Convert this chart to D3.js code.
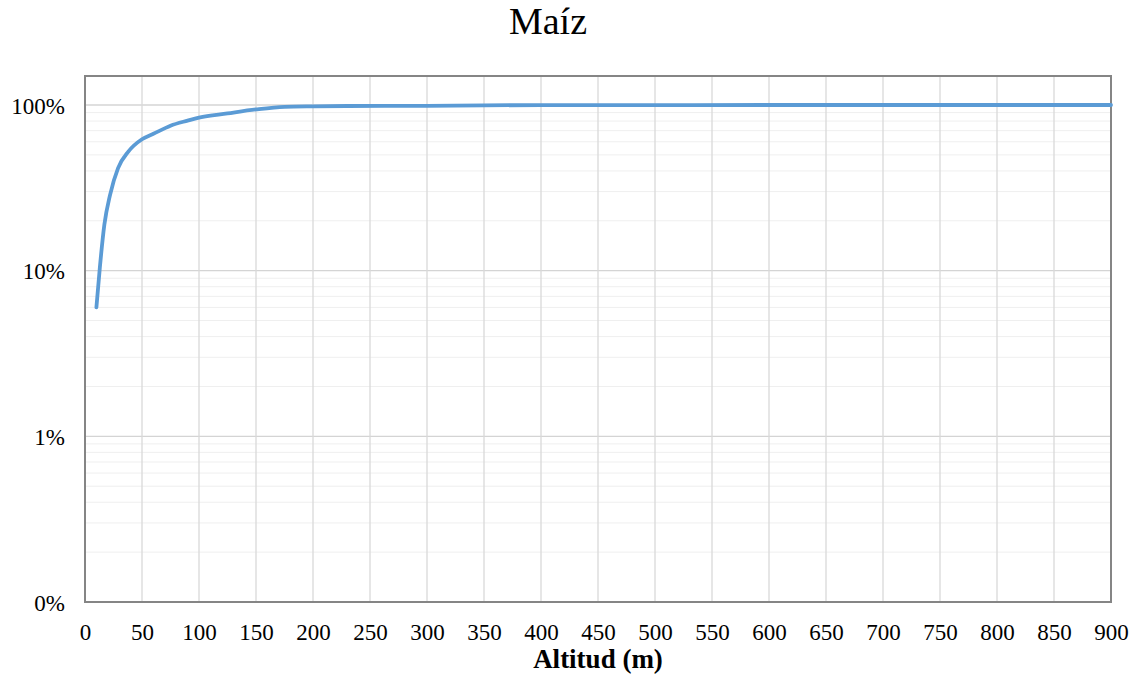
<!DOCTYPE html>
<html>
<head>
<meta charset="utf-8">
<title>Maíz</title>
<script src="https://cdnjs.cloudflare.com/ajax/libs/d3/7.8.5/d3.min.js"></script>
<style>
  body { margin: 0; background: #fff; }
  text { font-family: "Liberation Serif", "Times New Roman", serif; fill: #000; }
</style>
</head>
<body>
<script>
// cumulative share of area (%) by altitude (m)
var altitudes = [10, 13, 17, 22, 29, 38, 50, 60, 75, 90, 100, 125, 150, 175, 200, 230, 300, 350, 400, 500, 600, 700, 800, 900];
var shares = [6, 10.4, 19, 28.7, 41.6, 52.3, 62.1, 67, 75, 80.5, 84, 89, 94, 97.5, 98.2, 98.6, 98.9, 99.6, 99.8, 99.9, 100, 100, 100, 100];

var xTicks = d3.range(0, 901, 50);
var yTicks = [0.1, 1, 10, 100];
var yTickLabels = ['0%', '1%', '10%', '100%'];

var W = 1134, H = 682;
var m = { left: 85, right: 1111, top: 76, bottom: 602 };

var svg = d3.select('body').append('svg')
  .attr('width', W)
  .attr('height', H);

var x = d3.scaleLinear().domain([0, 900]).range([m.left, m.right]);
var y = d3.scaleLog().domain([0.1, 100]).range([m.bottom, 105]);

// minor horizontal grid
var minor = [];
yTicks.slice(0, -1).forEach(function(d) {
  for (var k = 2; k <= 9; k++) minor.push(d * k);
});
svg.append('g').selectAll('line')
  .data(minor)
  .enter().append('line')
  .attr('x1', m.left).attr('x2', m.right)
  .attr('y1', function(d) { return y(d); })
  .attr('y2', function(d) { return y(d); })
  .attr('stroke', '#efefef')
  .attr('stroke-width', 1);

// major horizontal grid
svg.append('g').selectAll('line')
  .data(yTicks)
  .enter().append('line')
  .attr('x1', m.left).attr('x2', m.right)
  .attr('y1', function(d) { return y(d); })
  .attr('y2', function(d) { return y(d); })
  .attr('stroke', '#d4d4d4')
  .attr('stroke-width', 1.3);

// vertical grid
svg.append('g').selectAll('line')
  .data(xTicks)
  .enter().append('line')
  .attr('x1', function(d) { return x(d); })
  .attr('x2', function(d) { return x(d); })
  .attr('y1', m.top).attr('y2', m.bottom)
  .attr('stroke', '#d9d9d9')
  .attr('stroke-width', 1.3);

// frame
svg.append('rect')
  .attr('x', m.left).attr('y', m.top)
  .attr('width', m.right - m.left).attr('height', m.bottom - m.top)
  .attr('fill', 'none')
  .attr('stroke', '#858585')
  .attr('stroke-width', 2);

// axes labels
var xAxis = d3.axisBottom(x).tickValues(xTicks).tickSize(0).tickPadding(38);
svg.append('g')
  .attr('transform', 'translate(0,' + m.bottom + ')')
  .call(xAxis)
  .call(function(g) { g.select('.domain').remove(); })
  .selectAll('text')
  .attr('font-size', 23)
  .attr('font-family', '"Liberation Serif", serif')
  .attr('fill', '#000')
  .attr('dy', 0);

var yAxis = d3.axisLeft(y).tickValues(yTicks).tickSize(0).tickPadding(20)
  .tickFormat(function(d, i) { return yTickLabels[i]; });
svg.append('g')
  .attr('transform', 'translate(' + m.left + ',0)')
  .call(yAxis)
  .call(function(g) { g.select('.domain').remove(); })
  .selectAll('text')
  .attr('font-size', 23)
  .attr('font-family', '"Liberation Serif", serif')
  .attr('fill', '#000')
  .attr('dy', '0.35em');

// line
var line = d3.line()
  .x(function(d, i) { return x(altitudes[i]); })
  .y(function(d) { return y(d); })
  .curve(d3.curveMonotoneX);

svg.append('path')
  .datum(shares)
  .attr('d', line)
  .attr('fill', 'none')
  .attr('stroke', '#5b9bd5')
  .attr('stroke-width', 3.8)
  .attr('stroke-linecap', 'round');

// titles
svg.append('text')
  .attr('x', 548).attr('y', 34)
  .attr('text-anchor', 'middle')
  .attr('font-size', 38)
  .text('Maíz');

svg.append('text')
  .attr('x', (m.left + m.right) / 2).attr('y', 668)
  .attr('text-anchor', 'middle')
  .attr('font-size', 27)
  .attr('font-weight', 'bold')
  .text('Altitud (m)');
</script>
</body>
</html>
